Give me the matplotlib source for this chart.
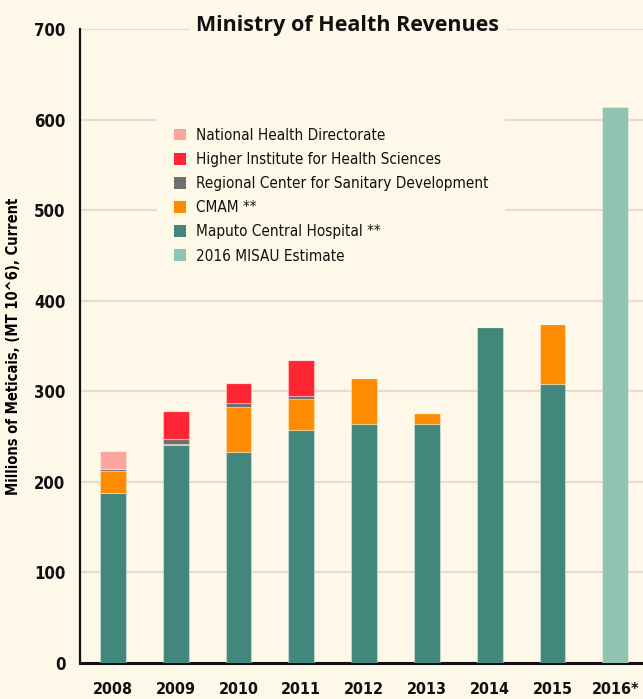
import matplotlib
matplotlib.use("Agg")
import matplotlib.pyplot as plt
from matplotlib.patches import Patch
import numpy as np

years = ["2008", "2009", "2010", "2011", "2012", "2013", "2014", "2015", "2016*"]
maputo = [188, 240.5, 233, 257, 264, 263.5, 371, 308, 0]
cmam = [24, 1.5, 50, 35, 51, 12, 0, 66, 0]
regional = [2.5, 5, 4.5, 3, 0, 0, 0, 0, 0]
higher = [0, 31.5, 22, 39, 0, 0, 0, 0, 0]
national = [19.5, 0, 0, 0, 0, 0, 0, 0, 0]
misau = [0, 0, 0, 0, 0, 0, 0, 0, 614]
yticks = [0, 100, 200, 300, 400, 500, 600, 700]

series = [
    ("Maputo Central Hospital **", maputo, "#41877B"),
    ("CMAM **", cmam, "#FF8C00"),
    ("Regional Center for Sanitary Development", regional, "#6E7070"),
    ("Higher Institute for Health Sciences", higher, "#FF2633"),
    ("National Health Directorate", national, "#FCA59B"),
    ("2016 MISAU Estimate", misau, "#91C2B2"),
]

BG = "#FEF8E9"
plt.rcParams["font.family"] = ["DejaVu Sans"]
plt.rcParams["font.stretch"] = "condensed"

fig = plt.figure(figsize=(6.43, 6.99), dpi=100, facecolor=BG)
W, H = 643, 699
ax = fig.add_axes([80 / W, (H - 663) / H, (W - 80) / W, (663 - 29) / H])
ax.set_facecolor(BG)

x = np.arange(len(years))
bottom = np.zeros(len(years))
for name, vals, col in series:
    v = np.array(vals, dtype=float)
    ax.bar(x, v, width=0.41, bottom=bottom, color=col,
           edgecolor=(1, 1, 1, 0.35), linewidth=0.8, zorder=3)
    bottom += v

ax.set_xlim(-0.525, 8.44)
ax.set_ylim(0, 700)
ax.set_yticks(yticks)
ax.set_yticklabels([str(t) for t in yticks], fontweight="bold", fontsize=12)
ax.set_xticks(x)
ax.set_xticklabels(years, fontweight="bold", fontsize=11.5)
ax.tick_params(axis="both", length=0, colors="#111111")
ax.tick_params(axis="y", pad=10.5)
ax.tick_params(axis="x", pad=13.5)
ax.yaxis.grid(True, color="#E6DECD", linewidth=1.6, zorder=0)
ax.set_axisbelow(True)
for s in ["top", "right"]:
    ax.spines[s].set_visible(False)
ax.spines["left"].set_linewidth(1.6)
ax.spines["bottom"].set_linewidth(2.2)
ax.spines["left"].set_color("#111111")
ax.spines["bottom"].set_color("#111111")

ax.set_ylabel("Millions of Meticais, (MT 10^6), Current", fontweight="bold",
              fontsize=10.5, labelpad=9)

# title with background box hiding the gridline
fig.text(348 / W, (H - 26) / H, "Ministry of Health Revenues", ha="center", va="center",
         fontsize=15.5, fontweight="bold", color="#111111", fontstretch="normal",
         family=["Open Sans", "DejaVu Sans"], zorder=10,
         bbox=dict(boxstyle="square,pad=0.3", facecolor=BG, edgecolor="none"))

handles = [Patch(facecolor=col, edgecolor="none", label=name)
           for name, vals, col in reversed(series[:5])]
handles.append(Patch(facecolor=series[5][2], edgecolor="none", label=series[5][0]))
leg = ax.legend(handles=handles, loc="upper left",
                bbox_to_anchor=(157 / W, (H - 111) / H), bbox_transform=fig.transFigure,
                frameon=True, facecolor=BG, edgecolor="none", framealpha=1,
                fontsize=11, handlelength=0.8, handleheight=0.8, handletextpad=0.65,
                labelspacing=0.6, borderpad=1.1, borderaxespad=0, fancybox=False)
leg.get_frame().set_linewidth(0)
for t in leg.get_texts():
    t.set_color("#111111")

fig.savefig("out.png", dpi=100, facecolor=BG)
